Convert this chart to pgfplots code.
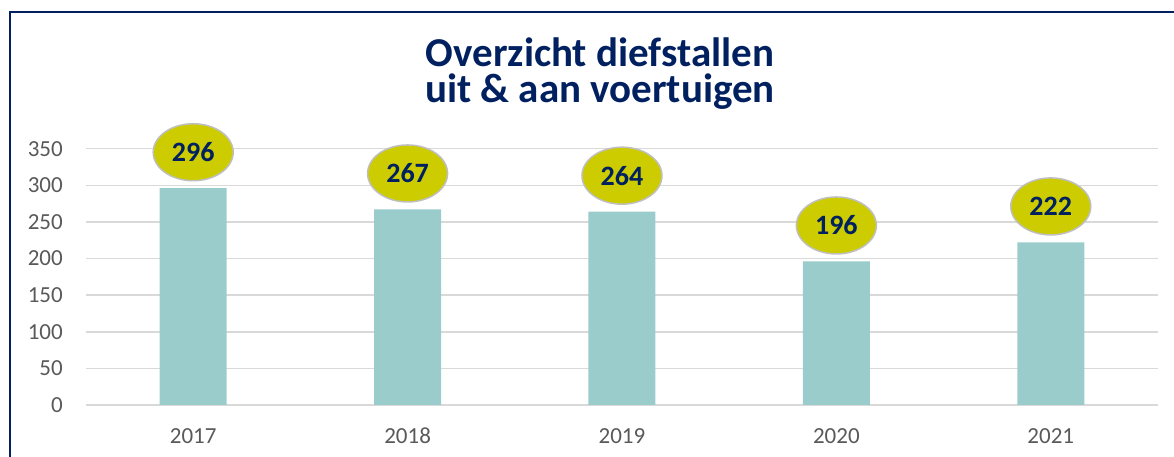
\documentclass[border=0pt]{standalone}
\usepackage{pgfplots}
\pgfplotsset{compat=1.18}
\usepackage{fontspec}
\setmainfont{Carlito}
\usetikzlibrary{shapes.geometric}
\definecolor{navy}{HTML}{002060}
\definecolor{barc}{HTML}{9BCCCC}
\definecolor{ell}{HTML}{CCCC00}
\definecolor{ellb}{HTML}{BFBFBF}
\definecolor{gridc}{HTML}{D9D9D9}
\definecolor{tickc}{HTML}{595959}
\begin{document}
\begin{tikzpicture}[x=1bp,y=1bp]
\useasboundingbox (0,0) rectangle (1174,457);
\draw[navy, line width=2bp] (10,-20) -- (10,444.5) -- (1200,444.5);
\node[navy, inner sep=0pt, align=center, font=\fontsize{41bp}{35.5bp}\selectfont\bfseries, anchor=base] at (600,354.5) {Overzicht diefstallen\\uit \& aan voertuigen};
\begin{axis}[at={(86bp,52bp)}, anchor=south west, scale only axis,
  width=1072bp, height=256.3bp,
  xmin=-0.5, xmax=4.5, ymin=0, ymax=350,
  ytick={0,50,...,350},
  xtick=data, xticklabels={2017,2018,2019,2020,2021},
  ymajorgrids, major grid style={gridc, line width=1.5bp},
  axis line style={draw=none}, major tick length=0pt, tick style={draw=none},
  yticklabel style={anchor=east, inner sep=0pt, xshift=-23bp, font=\fontsize{23bp}{26bp}\selectfont, text=tickc},
  xticklabel style={anchor=north, inner sep=0pt, yshift=-23bp, font=\fontsize{23bp}{26bp}\selectfont, text=tickc},
  /pgf/number format/assume math mode=true,
  clip=false,
  nodes near coords,
  every node near coord/.append style={ellipse, fill=ell, draw=ellb, line width=1.5bp,
     minimum width=80bp, minimum height=57bp, inner sep=0pt, anchor=center, yshift=36bp,
     font=\fontsize{28bp}{30bp}\selectfont\bfseries, text=navy}]
\addplot[ybar, bar width=67bp, fill=barc, draw=none] coordinates {(0,296) (1,267) (2,264) (3,196) (4,222)};
\end{axis}
\end{tikzpicture}
\end{document}
